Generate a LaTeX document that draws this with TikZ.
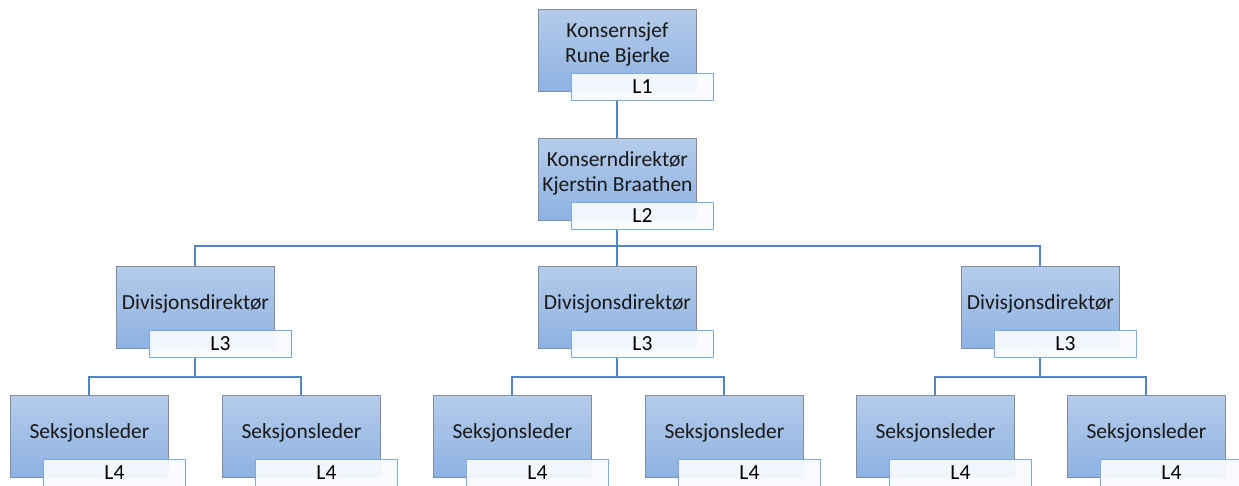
\documentclass[tikz,border=0pt]{standalone}
\usepackage{fontspec}
\setmainfont{Carlito}
\definecolor{boxtop}{RGB}{181,203,234}
\definecolor{boxbot}{RGB}{141,178,226}
\definecolor{boxedge}{RGB}{128,140,160}
\definecolor{tagedge}{RGB}{125,170,222}
\definecolor{tagfill}{RGB}{248,250,254}
\definecolor{wire}{RGB}{84,134,194}
\begin{document}
\begin{tikzpicture}[x=1pt,y=-1pt,
  role/.style={draw=boxedge, line width=0.9pt, top color=boxtop, bottom color=boxbot,
    minimum width=158pt, minimum height=82pt, inner sep=0pt, anchor=north west},
  roletext/.style={align=center, font=\fontsize{21.5}{25}\selectfont, inner sep=0pt, text=black!90},
  tag/.style={draw=tagedge, line width=0.9pt, fill=tagfill, fill opacity=0.95, text opacity=1,
    minimum width=142pt, minimum height=27pt, inner sep=0pt, anchor=north west,
    font=\fontsize{21.5}{25}\selectfont},
  wire/.style={draw=wire, line width=1.6pt}
]
\useasboundingbox (0,0) rectangle (1239,485);

% connectors (drawn first, beneath the boxes)
\coordinate (j2) at (617,246);
\draw[wire] (617,100) -- (617,138);
\draw[wire] (617,229) -- (j2);
\draw[wire] (195,266) |- (j2) -| (1040,266);
\draw[wire] (j2) -- (617,266);
\draw[wire] (195,358) -- (195,377);
\draw[wire] (89,395) |- (301,377) -- (301,395);
\draw[wire] (617,358) -- (617,377);
\draw[wire] (512,395) |- (724,377) -- (724,395);
\draw[wire] (1040,358) -- (1040,377);
\draw[wire] (935,395) |- (1146,377) -- (1146,395);

% level 1
\node[role] (b1) at (538,9) {};
\node[roletext] at ([yshift=6pt]b1.center) {Konsernsjef\\Rune Bjerke};
\node[tag] (t1) at (571,73) {L1};

% level 2
\node[role] (b2) at (538,138) {};
\node[roletext] at ([yshift=6pt]b2.center) {Konserndirektør\\Kjerstin Braathen};
\node[tag] (t2) at (571,202) {L2};

% level 3
\foreach \x/\n in {116/a,538/b,961/c}{
  \node[role] (b3\n) at (\x,266) {};
  \node[roletext] at ([yshift=4pt]b3\n.center) {Divisjonsdirektør};
  \node[tag] (t3\n) at (\x+33,330) {L3};
}

% level 4
\foreach \x/\n in {10/a,222/b,433/c,645/d,856/e,1067/f}{
  \node[role] (b4\n) at (\x,395) {};
  \node[roletext] at ([yshift=4pt]b4\n.center) {Seksjonsleder};
  \node[tag] (t4\n) at (\x+33,459) {L4};
}
\end{tikzpicture}
\end{document}
